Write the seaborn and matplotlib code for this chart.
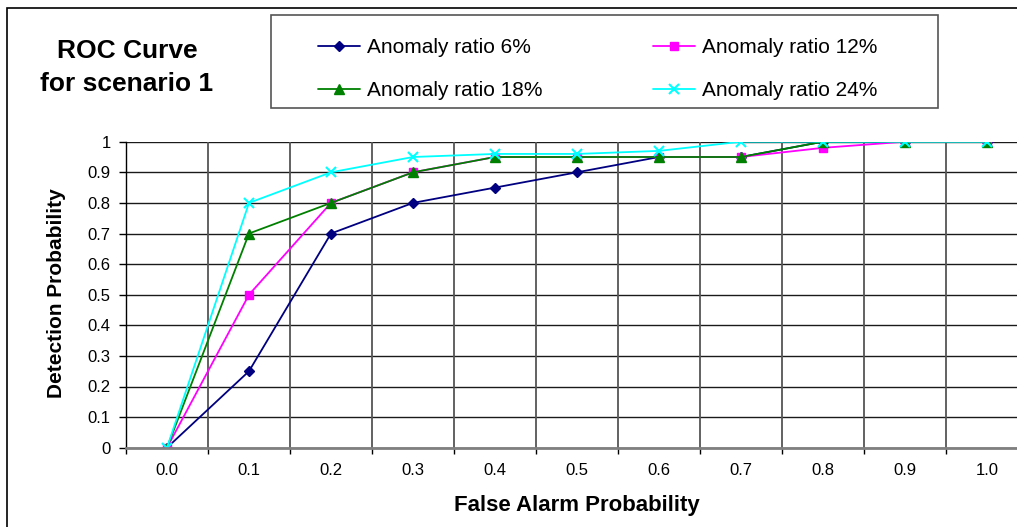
import matplotlib
matplotlib.use("Agg")
import matplotlib.pyplot as plt
from matplotlib.patches import Rectangle
import numpy as np
import pandas as pd
import seaborn as sns

# ---- data ----
x_labels = ["0.0", "0.1", "0.2", "0.3", "0.4", "0.5", "0.6", "0.7", "0.8", "0.9", "1.0"]
ratio_6 = [0, 0.25, 0.70, 0.80, 0.85, 0.90, 0.95, 0.95, 1.0, 1.0, 1.0]
ratio_12 = [0, 0.50, 0.80, 0.90, 0.95, 0.95, 0.95, 0.95, 0.98, 1.0, 1.0]
ratio_18 = [0, 0.70, 0.80, 0.90, 0.95, 0.95, 0.95, 0.95, 1.0, 1.0, 1.0]
ratio_24 = [0, 0.80, 0.90, 0.95, 0.96, 0.96, 0.97, 1.0, 1.0, 1.0, 1.0]
series_names = ["Anomaly ratio 6%", "Anomaly ratio 12%", "Anomaly ratio 18%", "Anomaly ratio 24%"]
y_ticks = [0, 0.1, 0.2, 0.3, 0.4, 0.5, 0.6, 0.7, 0.8, 0.9, 1]
y_tick_labels = ["0", "0.1", "0.2", "0.3", "0.4", "0.5", "0.6", "0.7", "0.8", "0.9", "1"]

sns.set_theme(style="white")
plt.rcParams["font.family"] = ["Liberation Sans", "DejaVu Sans"]
plt.rcParams["text.color"] = "black"
plt.rcParams["xtick.color"] = "black"
plt.rcParams["ytick.color"] = "black"

W, H = 1017, 527
fig = plt.figure(figsize=(W / 100, H / 100), dpi=100)
ax = fig.add_axes([126 / W, 1 - 447.7 / H, 902 / W, (447.7 - 141.7) / H])

pos = np.arange(len(x_labels))
styles = [
    dict(color="#000080", marker="D", markersize=5),
    dict(color="#FF00FF", marker="s", markersize=5.5),
    dict(color="#008000", marker="^", markersize=7),
    dict(color="#00FFFF", marker="x", markersize=7, markeredgewidth=1.5),
]
handles = []
for name, vals, st in zip(series_names, [ratio_6, ratio_12, ratio_18, ratio_24], styles):
    df = pd.DataFrame({"x": pos, "y": vals})
    sns.lineplot(data=df, x="x", y="y", ax=ax, color=st["color"], marker=st["marker"],
                 markersize=st["markersize"], markeredgecolor=st["color"],
                 markerfacecolor=st["color"],
                 markeredgewidth=st.get("markeredgewidth", 1.0),
                 linewidth=1.3, label=name, legend=False, sort=False, errorbar=None)
    handles.append(ax.get_lines()[-1])

ax.set_xlim(-0.5, 10.5)
ax.set_ylim(0, 1)
ax.set_xticks(pos)
ax.set_xticklabels(x_labels)
ax.set_xticks(np.arange(-0.5, 10.6, 1), minor=True)
ax.set_yticks(y_ticks)
ax.set_yticklabels(y_tick_labels)
ax.tick_params(axis="x", which="major", length=0, pad=11, labelsize=12,
               colors="black", labelcolor="black")
ax.tick_params(axis="x", which="minor", length=4, width=1, direction="out", color="black", bottom=True)
ax.tick_params(axis="y", which="major", length=5, width=1, direction="out", pad=6,
               labelsize=12, color="black", labelcolor="black", left=True)

ax.grid(False)
for yv in y_ticks:
    ax.axhline(yv, color="#1a1a1a", linewidth=1.0, zorder=0.5)
for xv in np.arange(0.5, 10.5, 1):
    ax.axvline(xv, color="#555555", linewidth=1.3, zorder=0.5)

for s in ["top", "right"]:
    ax.spines[s].set_visible(False)
ax.spines["left"].set_color("black")
ax.spines["left"].set_linewidth(1.0)
ax.spines["bottom"].set_color("#808080")
ax.spines["bottom"].set_linewidth(2.0)

ax.set_xlabel("")
ax.set_ylabel("")
fig.text(577 / W, 1 - 505 / H, "False Alarm Probability", ha="center", va="center",
         fontsize=16, fontweight="bold", color="black")
fig.text(56 / W, 1 - 293 / H, "Detection Probability", ha="center", va="center",
         rotation=90, fontsize=15, fontweight="bold", color="black")

fig.text(127 / W, 1 - 51 / H, "ROC Curve", ha="center", va="center",
         fontsize=19, fontweight="bold", color="black")
fig.text(127 / W, 1 - 84 / H, "for scenario 1", ha="center", va="center",
         fontsize=19, fontweight="bold", color="black")

# legend (row-wise order)
order = [0, 2, 1, 3]
leg = fig.legend([handles[i] for i in order], [series_names[i] for i in order],
                 ncol=2, frameon=False, loc="upper left",
                 bbox_to_anchor=(318 / W, 1 - 38 / H), borderpad=0, borderaxespad=0,
                 fontsize=15, handlelength=2.0, handletextpad=0.35,
                 columnspacing=5.3, labelspacing=1.15)
for t in leg.get_texts():
    t.set_color("black")

# legend box and outer frame
fig.patches.append(Rectangle((271 / W, 1 - 108 / H), (938 - 271) / W, (108 - 15) / H,
                             transform=fig.transFigure, fill=False,
                             edgecolor="#555555", linewidth=1.2))
fig.patches.append(Rectangle((7 / W, -0.1), 1.2, 1 - 8 / H + 0.1,
                             transform=fig.transFigure, fill=False,
                             edgecolor="black", linewidth=1.2))

fig.savefig("out.png", dpi=100)
